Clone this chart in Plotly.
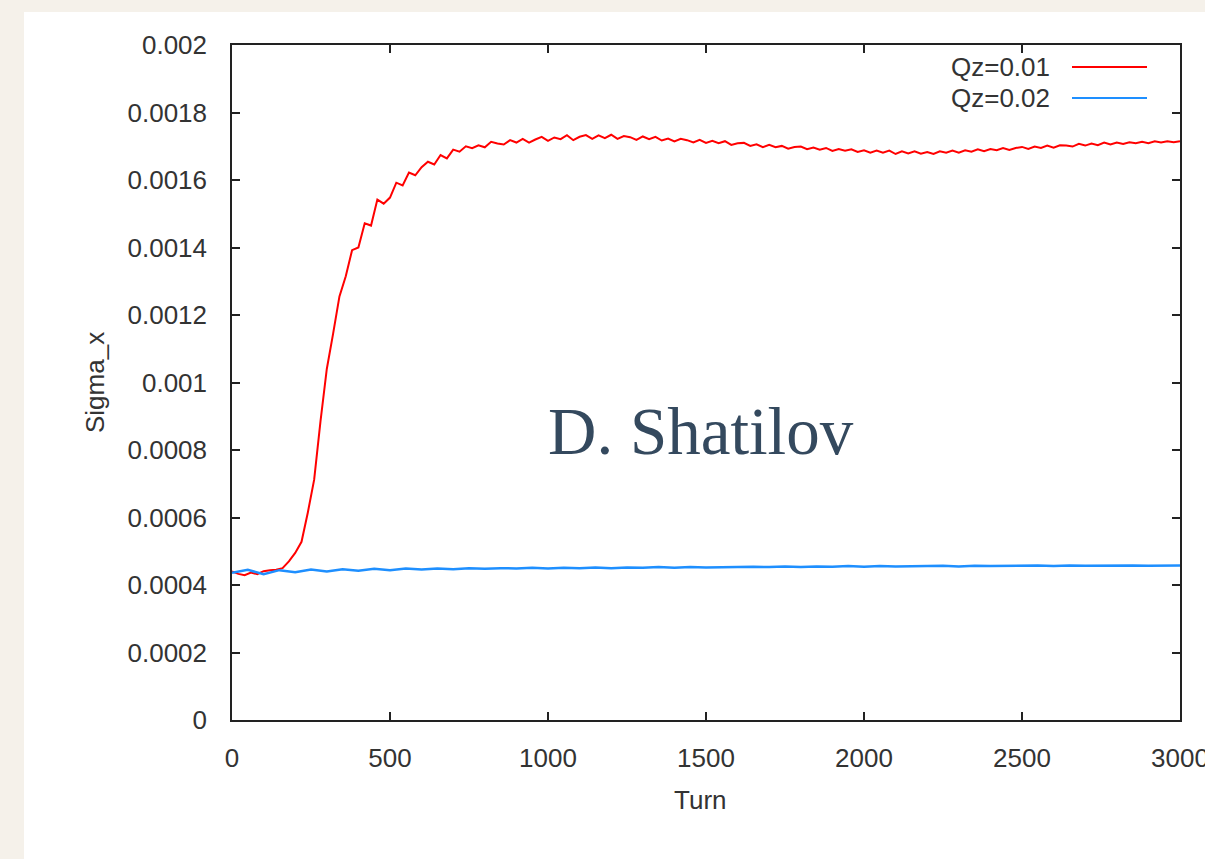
import plotly.graph_objects as go

# ---------------- data ----------------
red_turns = list(range(0, 3001, 20))
red_sigma = [
    0.000440, 0.000433, 0.000429, 0.000437, 0.000432, 0.000441, 0.000444, 0.000445, 0.000450, 0.000470,
    0.000495, 0.000528, 0.000615, 0.000712, 0.000885, 0.001040, 0.001145, 0.001255, 0.001315, 0.001392,
    0.001400, 0.001472, 0.001465, 0.001542, 0.001530, 0.001548, 0.001592, 0.001584, 0.001622, 0.001614,
    0.001638, 0.001654, 0.001646, 0.001674, 0.001664,
    0.001690, 0.001684, 0.001700, 0.001694, 0.001703, 0.001697, 0.001713, 0.001708, 0.001705, 0.001718,
    0.001711, 0.001722, 0.001711, 0.001720, 0.001728, 0.001716, 0.001726, 0.001721, 0.001733, 0.001718,
    0.001728, 0.001733, 0.001722, 0.001732, 0.001724, 0.001734, 0.001722, 0.001730, 0.001727, 0.001719,
    0.001729, 0.001721, 0.001728, 0.001717, 0.001723, 0.001714, 0.001722, 0.001718, 0.001711, 0.001719,
    0.001710, 0.001716, 0.001709, 0.001715, 0.001704, 0.001709, 0.001710, 0.001701, 0.001706, 0.001697,
    0.001704, 0.001697, 0.001701, 0.001693, 0.001698, 0.001699, 0.001691, 0.001696, 0.001690, 0.001695,
    0.001686, 0.001692, 0.001687, 0.001691, 0.001683, 0.001688, 0.001681, 0.001687, 0.001681, 0.001687,
    0.001677, 0.001685, 0.001679, 0.001685, 0.001678, 0.001683, 0.001677, 0.001685, 0.001681, 0.001687,
    0.001681, 0.001688, 0.001684, 0.001691, 0.001685, 0.001692, 0.001688, 0.001695, 0.001689, 0.001695,
    0.001698, 0.001692, 0.001699, 0.001695, 0.001702, 0.001696, 0.001703, 0.001702, 0.001699, 0.001707,
    0.001702, 0.001708, 0.001703, 0.001711, 0.001705, 0.001711, 0.001707, 0.001712, 0.001709, 0.001713,
    0.001709, 0.001715, 0.001711, 0.001715, 0.001712, 0.001715,
]

blue_turns = list(range(0, 3001, 50))
blue_sigma = [
    0.000436, 0.000445, 0.000432, 0.000444, 0.000438, 0.000446, 0.000440, 0.000447, 0.000442, 0.000448,
    0.000444, 0.000449, 0.000446, 0.000449, 0.000447, 0.000450, 0.000448, 0.000450, 0.000449, 0.000451,
    0.000449, 0.000451, 0.000450, 0.000452, 0.000450, 0.000452, 0.000451, 0.000453, 0.000451, 0.000453,
    0.000452, 0.000453, 0.000452, 0.000454, 0.000453, 0.000455, 0.000453, 0.000455, 0.000454, 0.000456,
    0.000454, 0.000456, 0.000455, 0.000456, 0.000455, 0.000457, 0.000455, 0.000457, 0.000456, 0.000457,
    0.000456, 0.000458, 0.000456, 0.000458, 0.000457, 0.000458, 0.000457, 0.000458, 0.000457, 0.000458,
    0.000458,
]

series_names = ["Qz=0.01", "Qz=0.02"]
series_colors = ["#ff0000", "#1e8fff"]

y_tickvals = [0, 0.0002, 0.0004, 0.0006, 0.0008, 0.001, 0.0012, 0.0014, 0.0016, 0.0018, 0.002]
y_ticktext = ["0", "0.0002", "0.0004", "0.0006", "0.0008", "0.001", "0.0012", "0.0014", "0.0016", "0.0018", "0.002"]
x_tickvals = [0, 500, 1000, 1500, 2000, 2500, 3000]
x_ticktext = ["0", "500", "1000", "1500", "2000", "2500", "3000"]

# ---------------- figure ----------------
W, H = 1205, 859
L, R, T, B = 232, 1180, 45, 720
pw, ph = R - L, B - T

def px(x):
    return (x - L) / pw

def py(y):
    return (B - y) / ph

font = "Liberation Sans, Arial, sans-serif"
txt_col = "#333333"

fig = go.Figure()
fig.add_trace(go.Scatter(x=red_turns, y=red_sigma, mode="lines", name=series_names[0],
                         line=dict(color=series_colors[0], width=2), showlegend=False))
fig.add_trace(go.Scatter(x=blue_turns, y=blue_sigma, mode="lines", name=series_names[1],
                         line=dict(color=series_colors[1], width=2.5), showlegend=False))

axis_common = dict(showline=True, linecolor="#222222", linewidth=1.5, mirror="ticks",
                   ticks="inside", ticklen=8, tickwidth=1.5, tickcolor="#222222",
                   showgrid=False, zeroline=False, ticklabeloverflow="allow", automargin=False,
                   tickfont=dict(family=font, size=26, color=txt_col))

fig.update_xaxes(range=[0, 3000], tickmode="array", tickvals=x_tickvals, ticktext=x_ticktext,
                 ticklabelstandoff=14, **axis_common)
fig.update_yaxes(range=[0, 0.002], tickmode="array", tickvals=y_tickvals, ticktext=y_ticktext,
                 ticklabelstandoff=18, **axis_common)

shapes = [
    # white panel on the beige page
    dict(type="rect", xref="paper", yref="paper", x0=px(24), x1=px(1210), y0=py(880), y1=py(12),
         fillcolor="white", line=dict(width=0), layer="below"),
]
annotations = [
    dict(text="Sigma_x", xref="paper", yref="paper", x=px(95), y=py(383), textangle=-90,
         showarrow=False, font=dict(family=font, size=26, color=txt_col), xanchor="center", yanchor="middle"),
    dict(text="Turn", xref="paper", yref="paper", x=px(700), y=py(800),
         showarrow=False, font=dict(family=font, size=26, color=txt_col), xanchor="center", yanchor="middle"),
    dict(text="D. Shatilov", xref="paper", yref="paper", x=px(701), y=py(431),
         showarrow=False, font=dict(family="Liberation Serif, serif", size=67, color="#34495e"),
         xanchor="center", yanchor="middle"),
]
# gnuplot-style key: text then line sample
for i, (nm, col) in enumerate(zip(series_names, series_colors)):
    yy = 67 + i * 31
    annotations.append(dict(text=nm, xref="paper", yref="paper", x=px(1052), y=py(yy),
                            showarrow=False, xanchor="right", yanchor="middle",
                            font=dict(family=font, size=26, color=txt_col)))
    shapes.append(dict(type="line", xref="paper", yref="paper", x0=px(1072), x1=px(1147),
                       y0=py(yy), y1=py(yy), line=dict(color=col, width=2)))

fig.update_layout(
    width=W, height=H,
    margin=dict(l=L, r=W - R, t=T, b=H - B, pad=0, autoexpand=False),
    paper_bgcolor="#f5f1ea", plot_bgcolor="white",
    shapes=shapes, annotations=annotations,
    showlegend=False,
)

fig.write_html("out.html")
